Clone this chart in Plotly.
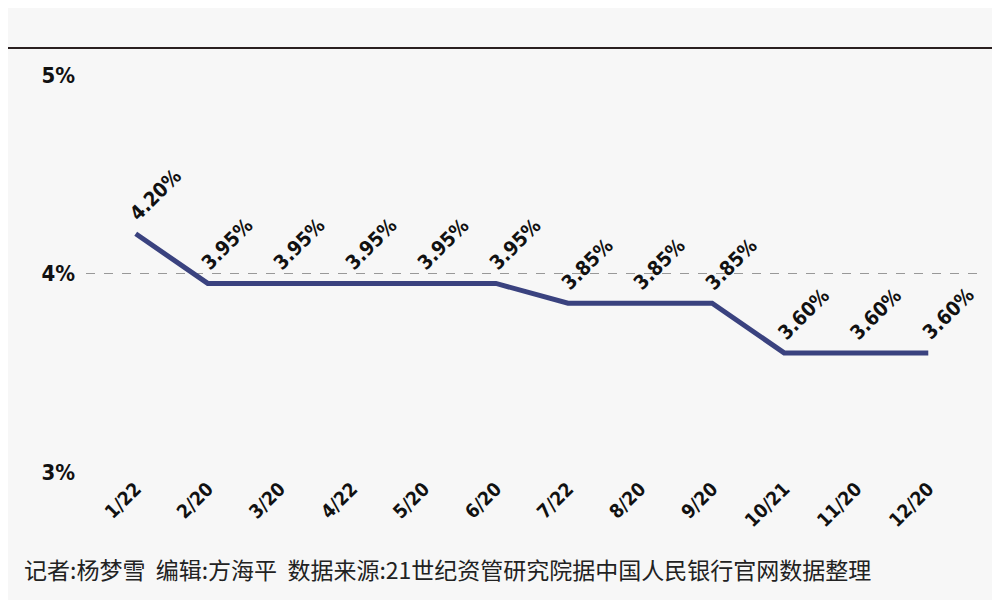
import plotly.graph_objects as go

dates = ["1/22","2/20","3/20","4/22","5/20","6/20","7/22","8/20","9/20","10/21","11/20","12/20"]
rates = [4.20,3.95,3.95,3.95,3.95,3.95,3.85,3.85,3.85,3.60,3.60,3.60]
ytick_vals = [3,4,5]
ytick_text = ["3%","4%","5%"]
footer = "记者:杨梦雪  编辑:方海平  数据来源:21世纪资管研究院据中国人民银行官网数据整理"

FONT = "DejaVu Sans Condensed, Liberation Sans Narrow, sans-serif"
fig = go.Figure(go.Scatter(x=list(range(len(dates))), y=rates, mode="lines",
                           line=dict(color="#3a427f", width=5)))
for i, v in enumerate(rates):
    fig.add_annotation(x=i, y=v, text=f"<b>{v:.2f}%</b>", textangle=-45, showarrow=False,
                       xanchor="left", yanchor="bottom", xshift=-14, yshift=6,
                       font=dict(family=FONT, size=20, color="#111"))
fig.update_xaxes(tickvals=list(range(len(dates))), ticktext=[f"<b>{d}</b>" for d in dates],
                 tickangle=-45, range=[-0.69, 11.69], showgrid=False, zeroline=False,
                 showline=False, tickfont=dict(family=FONT, size=19, color="#111"), ticks="")
fig.update_yaxes(tickvals=ytick_vals, ticktext=[f"<b>{t}</b>" for t in ytick_text],
                 range=[2.995, 5.005], showgrid=True, gridcolor="#999", griddash="dash",
                 gridwidth=1, zeroline=False, tickfont=dict(family=FONT, size=22, color="#111"),
                 ticks="", ticklabelstandoff=10)
fig.add_shape(type="line", xref="paper", yref="paper", x0=-0.09, x1=1.04,
              y0=1.065, y1=1.065, line=dict(color="#2a2020", width=2))
fig.add_annotation(xref="paper", yref="paper", x=-0.072, y=-0.24, xanchor="left",
                   yanchor="middle", showarrow=False, text=footer,
                   font=dict(family="Noto Sans CJK SC", size=23, color="#222"))
fig.update_layout(width=1000, height=600, margin=dict(l=78, r=30, t=66, b=135),
                  paper_bgcolor="#f7f7f7", plot_bgcolor="#f7f7f7", showlegend=False)
fig.write_html("out.html")
